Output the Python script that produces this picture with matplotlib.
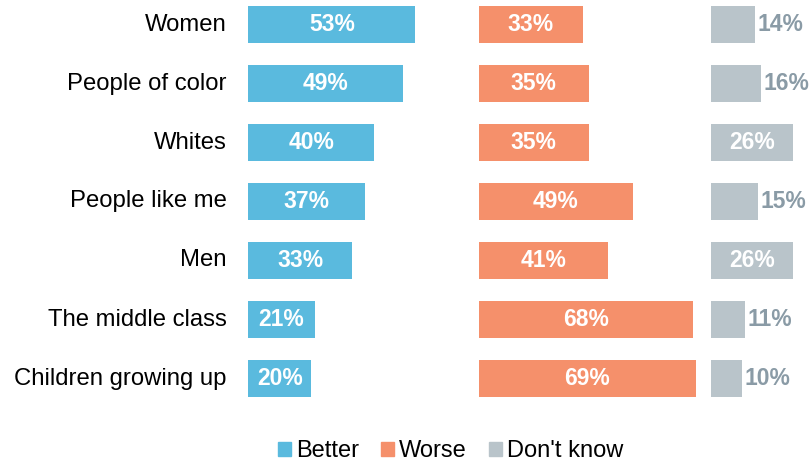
import matplotlib
matplotlib.use("Agg")
import matplotlib.pyplot as plt
from matplotlib.patches import Patch

plt.rcParams['font.family'] = ['Liberation Sans', 'DejaVu Sans']

# data
groups = ["Women", "People of color", "Whites", "People like me", "Men",
          "The middle class", "Children growing up"]
better = [53, 49, 40, 37, 33, 21, 20]
worse = [33, 35, 35, 49, 41, 68, 69]
dont_know = [14, 16, 26, 15, 26, 11, 10]
series_names = ["Better", "Worse", "Don't know"]

blue = "#5abade"
orange = "#f5906b"
grey = "#b9c4ca"
grey_txt = "#8a9ba6"

W, H = 812, 466
fig = plt.figure(figsize=(W / 100, H / 100), dpi=100)

px_per_pct = 3.15
top_px, bot_px = 0, 408
row0, step = 24.5, 59.0
y_top = (top_px - row0) / step
y_bot = (bot_px - row0) / step
bar_h = 37 / step

panels = [(248.5, 190, better, blue), (478.7, 230, worse, orange), (710.7, 101, dont_know, grey)]

rows = list(range(len(groups)))
for k, (left_px, width_px, vals, col) in enumerate(panels):
    ax = fig.add_axes([left_px / W, 1 - bot_px / H, width_px / W, (bot_px - top_px) / H])
    ax.barh(rows, vals, height=bar_h, color=col, edgecolor="none")
    ax.set_xlim(0, width_px / px_per_pct)
    ax.set_ylim(y_bot, y_top)
    ax.axis("off")
    for i, v in zip(rows, vals):
        if v >= 20:
            ax.text(v / 2, i, f"{v}%", ha="center", va="center", color="white",
                    fontsize=16.5, fontweight="bold")
        else:
            ax.text(v + 0.7, i, f"{v}%", ha="left", va="center", color=grey_txt,
                    fontsize=16.5, fontweight="bold")
    if k == 0:
        for i, g in zip(rows, groups):
            ax.text(-22 / px_per_pct, i, g, ha="right", va="center", fontsize=17.2, color="black")

handles = [Patch(color=c) for c in (blue, orange, grey)]
fig.legend(handles, series_names, loc="lower center", bbox_to_anchor=(0.555, -0.038),
           ncol=3, frameon=False, fontsize=17, handlelength=0.55, handleheight=0.55,
           handletextpad=0.2, columnspacing=0.95)

fig.savefig("out.png", dpi=100)
